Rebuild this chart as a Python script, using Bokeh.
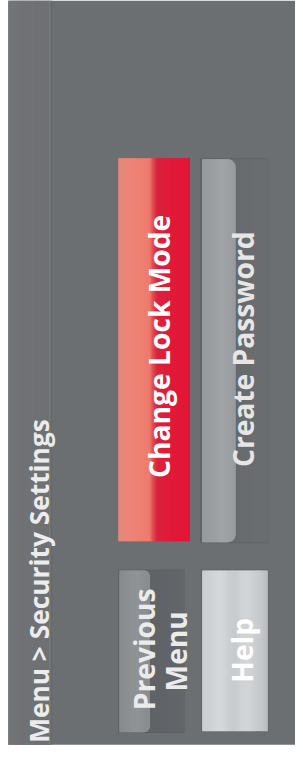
import math
from bokeh.plotting import figure
from bokeh.models import Range1d
from bokeh.core.properties import value
from bokeh.embed import file_html
from bokeh.resources import INLINE

# ---- content ----
title_text = "Menu > Security Settings"
main_labels = ["Change Lock Mode", "Create Password"]
side_labels = ["Previous\nMenu", "Help"]

BG = "#6c6f72"
S = 295 / 303.0  # scale of the 303x776 frame into the figure

p = figure(width=295, height=756, x_range=Range1d(0, 303), y_range=Range1d(776, 0),
           output_backend="svg", toolbar_location=None, min_border=0)
p.axis.visible = False
p.grid.visible = False
p.outline_line_color = None
p.background_fill_color = "#ffffff"
p.border_fill_color = "#ffffff"


def hx(c):
    c = c.lstrip("#")
    return [int(c[i:i + 2], 16) for i in (0, 2, 4)]


def interp(stops, t):
    for (t0, c0), (t1, c1) in zip(stops[:-1], stops[1:]):
        if t0 <= t <= t1:
            f = 0 if t1 == t0 else (t - t0) / (t1 - t0)
            a, b = hx(c0), hx(c1)
            return "#%02x%02x%02x" % tuple(round(a[i] + (b[i] - a[i]) * f) for i in range(3))
    return stops[-1][1]


def strips(x0, x1, top, bottom, stops, n=None, radius=0):
    """Horizontal gradient made of thin vertical strips; optional rounded right corners."""
    n = n or int(round(x1 - x0))
    w = (x1 - x0) / n
    lefts, rights, tops, bottoms, cols = [], [], [], [], []
    for i in range(n):
        l = x0 + i * w
        c = l + w / 2
        inset = 0.0
        if radius and c > x1 - radius:
            dx = c - (x1 - radius)
            inset = radius - math.sqrt(max(radius * radius - dx * dx, 0))
        lefts.append(l)
        rights.append(l + w + 0.6)
        tops.append(top + inset)
        bottoms.append(bottom - inset)
        cols.append(interp(stops, (i + 0.5) / n))
    p.quad(left=lefts, right=rights, top=tops, bottom=bottoms,
           fill_color=cols, line_color=None)


# screen background
p.quad(left=[8], right=[303], top=[0], bottom=[764], fill_color=BG, line_color=None)

# header strip
strips(8, 50, 0, 764, [(0, "#747679"), (0.3, "#707275"), (1, "#6f7174")])
p.quad(left=[50], right=[51.5], top=[0], bottom=[764], fill_color="#7a7c7f", line_color=None)
p.quad(left=[51.5], right=[53], top=[0], bottom=[764], fill_color="#66686b", line_color=None)

# Change Lock Mode (red, active)
strips(121, 194, 162, 555, [(0, "#ee8a7d"), (0.44, "#ee7b6d"), (0.49, "#e2494c"),
                            (0.55, "#e01e3a"), (1, "#e31536")])

# Create Password
p.quad(left=[205], right=[275], top=[162], bottom=[557], fill_color="#5f6265", line_color=None)
strips(207, 274, 163, 556, [(0, "#65686b"), (1, "#6b6e71")])
strips(207, 241, 163, 556, [(0, "#979a9d"), (0.6, "#a2a5a8"), (1, "#9a9da0")], n=68, radius=8)

# Previous Menu
p.quad(left=[121], right=[189], top=[584], bottom=[752], fill_color="#5a5d60", line_color=None)
strips(122, 188, 585, 751, [(0, "#5d6063"), (1, "#63666a")])
strips(122, 153, 585, 751, [(0, "#898c8f"), (0.6, "#919497"), (1, "#8a8d90")], n=62, radius=6)

# Help
p.quad(left=[206], right=[275], top=[584], bottom=[751], fill_color="#5f6265", line_color=None)
strips(207, 274, 585, 750, [(0, "#c9ccce"), (0.25, "#d5d8da"), (0.5, "#cdd0d2"),
                            (0.7, "#d2d5d7"), (1, "#bfc2c4")])

FONT = value("Open Sans")
A = math.pi / 2
FS = "%.1fpx" % (29 * S)

# header title
p.text(x=[40], y=[762], text=[title_text], angle=A, text_font=FONT, text_font_style="bold",
       text_font_size="%.1fpx" % (27 * S), text_align="left", text_baseline="alphabetic",
       text_color="#ececec")

# main buttons
p.text(x=[163, 249], y=[355, 358], text=main_labels, angle=A, text_font=FONT,
       text_font_style="bold", text_font_size=FS, text_align="center",
       text_baseline="alphabetic", text_color=["#ffffff", "#e6e6e6"])

# side buttons
prev_lines = side_labels[0].split("\n")
p.text(x=[147, 180], y=[666, 668], text=prev_lines, angle=A, text_font=FONT,
       text_font_style="bold", text_font_size=FS, text_align="center",
       text_baseline="alphabetic", text_color="#ebebeb")
p.text(x=[248], y=[667], text=[side_labels[1]], angle=A, text_font=FONT,
       text_font_style="bold", text_font_size=FS, text_align="center",
       text_baseline="alphabetic", text_color="#ffffff")

open("out.html", "w").write(file_html(p, INLINE))
